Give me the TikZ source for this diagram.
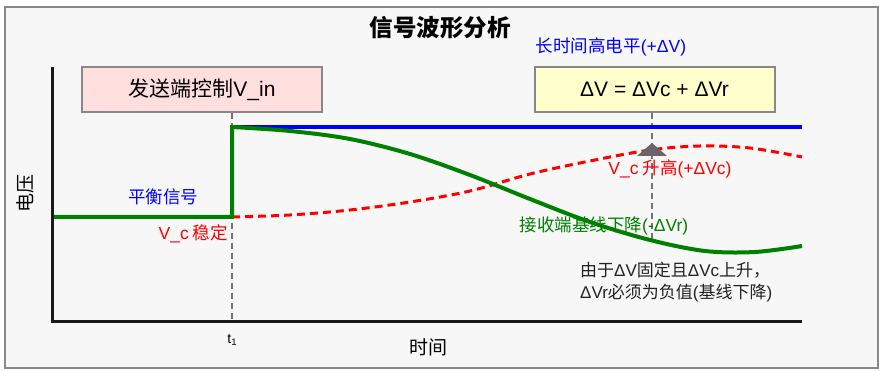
\documentclass[tikz,border=0pt]{standalone}
\usepackage{fontspec}
\setmainfont{Noto Sans CJK SC}
\newfontfamily\latfont{Liberation Sans}
\newcommand\La[1]{{\latfont #1}}
\definecolor{pinkfill}{HTML}{FFDEDE}
\definecolor{yellowfill}{HTML}{FFFFCC}
\definecolor{bgfill}{HTML}{F7F7F7}
\definecolor{framegray}{HTML}{888888}
\definecolor{darkgreen}{HTML}{008000}
\definecolor{txtgray}{HTML}{222222}
\begin{document}
\begin{tikzpicture}[x=1pt,y=-1pt,
  frame/.style={draw=framegray, line width=2pt, fill=bgfill, inner sep=0pt},
  notebox/.style={draw=framegray, line width=2pt, minimum width=240pt, minimum height=45pt, inner sep=0pt, font=\fontsize{21}{24}\selectfont},
  axisline/.style={line width=3pt, black!90},
  guide/.style={draw=black!55, line width=1.5pt, dash pattern=on 6pt off 4pt},
  lbl/.style={font=\fontsize{17.5}{20}\selectfont, inner sep=0pt},
  sig/.style={line width=4pt, line join=miter}]
\useasboundingbox (0,0) rectangle (881,371);
\node[frame, minimum width=873pt, minimum height=361pt, anchor=north west] (bg) at (4,6) {};
\node[font=\fontsize{23.5}{26}\selectfont\bfseries] (title) at (440,28) {信号波形分析};
\node[lbl, text=blue] (longlbl) at (611,47) {长时间高电平\La{(+ΔV)}};
\node[notebox, fill=pinkfill] (pinkbox) at (202,89.5) {发送端控制\La{V\_in}};
\node[notebox, fill=yellowfill] (ybox) at (654.5,89.5) {\La{ΔV = ΔVc + ΔVr}};
% axes
\coordinate (origin) at (52,322);
\coordinate (ytop) at (52,67);
\coordinate (xend) at (802,322);
\coordinate (t1) at (232,322);
\coordinate (yguideend) at (652,243);
% guides
\draw[guide] (pinkbox.south -| t1) -- (t1);
\draw[guide] (ybox.south -| yguideend) -- (yguideend);
% blue signal
\draw[sig, blue] (52,217) -- (232,217) -- (232,127) -- (802,127);
% red dashed
\draw[line width=3pt, red, dash pattern=on 8pt off 5pt] plot[smooth, tension=0.55] coordinates {(232,217) (290,215) (350,210) (410,202) (470,191) (530,174) (590,161) (650,150) (700,146) (750,148) (802,157)};
% green
\draw[sig, darkgreen] (52,217) -- (232,217) -- (232,127) -- plot[smooth, tension=0.55] coordinates {(232,127) (290,131) (350,139) (410,154) (470,175) (530,199) (590,222) (650,240) (705,251) (755,252) (802,246)};
\draw[axisline] (ytop) -- (origin) -- (xend);
% triangle marker
\fill[black!60] (637,156) -- (652,143) -- (667,156) -- cycle;
% labels
\node[lbl, text=blue] (balance) at (163,197) {平衡信号};
\node[lbl, text=red, anchor=east] (vcstable) at (228,234) {\La{V\_c} 稳定};
\node[lbl, text=red] (vcrise) at (670,169) {\La{V\_c} 升高\La{(+ΔVc)}};
\node[lbl, text=darkgreen] (baseline) at (604,226) {接收端基线下降\La{(-ΔVr)}};
\node[lbl, text=txtgray, align=left, anchor=west, font=\fontsize{17}{22}\selectfont] (note) at (580,282) {由于\La{ΔV}固定且\La{ΔVc}上升，\\\La{ΔVr}必须为负值\La{(}基线下降\La{)}};
\node[font=\fontsize{19}{22}\selectfont, rotate=90, inner sep=0pt] (ylbl) at (25,194) {电压};
\node[font=\fontsize{19}{22}\selectfont, inner sep=0pt] (xlbl) at (428,347) {时间};
\node[font=\fontsize{14}{15}\selectfont, inner sep=0pt] (t1lbl) at (232,340) {\La{t\raisebox{-2pt}{\fontsize{9.5}{10}\selectfont 1}}};
\end{tikzpicture}
\end{document}
